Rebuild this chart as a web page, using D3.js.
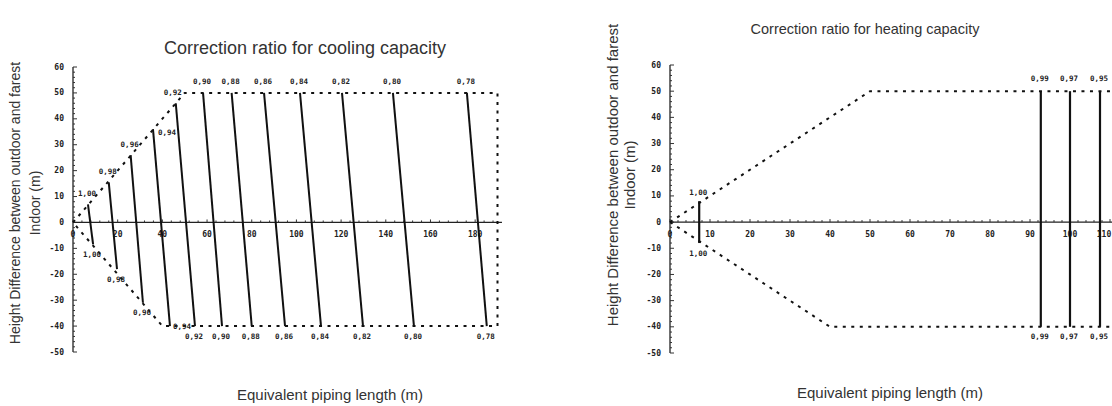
<!DOCTYPE html>
<html>
<head>
<meta charset="utf-8">
<script src="https://cdn.jsdelivr.net/npm/d3@7"></script>
<style>
  html, body { margin: 0; padding: 0; background: #fff; }
  svg { display: block; }
  .title, .axis-title { font-family: "Liberation Sans", Arial, sans-serif; fill: #333; }
  .tick-label, .ratio-label { font-family: "DejaVu Sans Mono", monospace; font-weight: bold; fill: #222; }
</style>
</head>
<body>
<svg id="chart" width="1112" height="406"></svg>
<script>
// ── cooling chart data (length m, height m) ─────────────────────────────
const coolLabels = ["1,00","0,98","0,96","0,94","0,92","0,90","0,88","0,86","0,84","0,82","0,80","0,78"];
const coolTopLen = [6.7, 16, 25.8, 35.8, 46, 58.2, 71, 85.5, 101.6, 120.4, 143.2, 176.3];
const coolTopH   = [7, 15.5, 26, 36, 46, 50, 50, 50, 50, 50, 50, 50];
const coolBotLen = [9, 19.7, 31.3, 43.4, 54.6, 66.7, 80, 94.9, 111, 129.8, 152.6, 185.2];
const coolBotH   = [-8.5, -18, -31, -40, -40, -40, -40, -40, -40, -40, -40, -40];
const coolLimitLen = [0, 50, 190, 190, 40, 0];
const coolLimitH   = [0, 50, 50, -40, -40, 0];
const coolXTicks = [0, 20, 40, 60, 80, 100, 120, 140, 160, 180];

// ── heating chart data ───────────────────────────────────────────────────
const heatLabels = ["1,00","0,99","0,97","0,95"];
const heatLen    = [7.3, 92.7, 100, 107.5];
const heatTopH   = [8, 50, 50, 50];
const heatBotH   = [-8, -40, -40, -40];
const heatUpperLen = [0, 50, 111];
const heatUpperH   = [0, 50, 50];
const heatLowerLen = [0, 40, 111];
const heatLowerH   = [0, -40, -40];
const heatXTicks = [0, 10, 20, 30, 40, 50, 60, 70, 80, 90, 100, 110];

const yTicks = [60, 50, 40, 30, 20, 10, 0, -10, -20, -30, -40, -50];

const svg = d3.select("#chart");
const W = +svg.attr("width");
const dots = "3,5.5";

// draw the axes cross (y axis at length 0, x axis at height 0)
function drawAxes(g, x, y, xTicks, xEnd, xMinorStep) {
  // y axis
  g.append("line")
    .attr("x1", x(0)).attr("x2", x(0))
    .attr("y1", y(-50)).attr("y2", y(60))
    .attr("stroke", "#222").attr("stroke-width", 1.3);
  g.selectAll(".ymin").data(d3.range(-50, 60.1, 2))
    .join("line")
      .attr("x1", x(0)).attr("x2", d => x(0) + (d % 10 === 0 ? 4 : 2))
      .attr("y1", d => y(d)).attr("y2", d => y(d))
      .attr("stroke", "#333").attr("stroke-width", 1);
  g.selectAll(".ylab").data(yTicks)
    .join("text")
      .attr("class", "tick-label")
      .attr("x", x(0) - 9).attr("y", d => y(d))
      .attr("text-anchor", "end").attr("dominant-baseline", "central")
      .attr("font-size", 8)
      .text(d => d);

  // x axis
  g.append("line")
    .attr("x1", x(0)).attr("x2", x(xEnd))
    .attr("y1", y(0)).attr("y2", y(0))
    .attr("stroke", "#222").attr("stroke-width", 1.3);
  g.selectAll(".xmin").data(d3.range(0, xEnd, xMinorStep))
    .join("line")
      .attr("x1", d => x(d)).attr("x2", d => x(d))
      .attr("y1", y(0)).attr("y2", d => y(0) - (d % xTicks[1] === 0 ? 3 : 2))
      .attr("stroke", "#333").attr("stroke-width", 1);
  // keep the last label inside the page (it sits at the very edge)
  g.selectAll(".xlab").data(xTicks)
    .join("text")
      .attr("class", "tick-label")
      .attr("x", d => Math.min(x(d), W - 8)).attr("y", y(0) + 12)
      .attr("text-anchor", "middle").attr("dominant-baseline", "central")
      .attr("font-size", 8)
      .text(d => d);
}

function limitLine(g, lens, hs, x, y) {
  g.append("path")
    .datum(d3.zip(lens, hs))
    .attr("fill", "none")
    .attr("stroke", "#111").attr("stroke-width", 2)
    .attr("stroke-dasharray", dots)
    .attr("d", d3.line().x(d => x(d[0])).y(d => y(d[1])));
}

function axisTitles(g, title, tx, ty, tSize, yx, yy, yGap, ySize, xx, xy) {
  g.append("text").attr("class", "title")
    .attr("x", tx).attr("y", ty).attr("text-anchor", "middle")
    .attr("font-size", tSize).text(title);
  const yt = g.append("text").attr("class", "axis-title")
    .attr("transform", `translate(${yx},${yy}) rotate(-90)`)
    .attr("text-anchor", "middle").attr("font-size", ySize);
  yt.append("tspan").attr("x", 0).attr("dy", 0)
    .text("Height Difference between outdoor and farest");
  yt.append("tspan").attr("x", 0).attr("dy", yGap)
    .text("Indoor (m)");
  g.append("text").attr("class", "axis-title")
    .attr("x", xx).attr("y", xy).attr("text-anchor", "middle")
    .attr("font-size", 15).text("Equivalent piping length (m)");
}

// ──────────────────────────────────────────────────────────────────────────
// 1) COOLING
// ──────────────────────────────────────────────────────────────────────────
{
  const x = d3.scaleLinear().domain([0, 190]).range([73, 497.5]);
  const y = d3.scaleLinear().domain([-50, 60]).range([352, 67]);
  const g = svg.append("g");

  axisTitles(g, "Correction ratio for cooling capacity", 305, 54, 18,
             20, 203, 20, 14, 330, 400);
  drawAxes(g, x, y, coolXTicks, 192, 4);
  limitLine(g, coolLimitLen, coolLimitH, x, y);

  g.selectAll(".ratio").data(coolLabels)
    .join("line")
      .attr("x1", (d, i) => x(coolTopLen[i])).attr("y1", (d, i) => y(coolTopH[i]))
      .attr("x2", (d, i) => x(coolBotLen[i])).attr("y2", (d, i) => y(coolBotH[i]))
      .attr("stroke", "#111").attr("stroke-width", 2);

  // top labels (0.94 sits right of its line, 0.92 at the corner)
  g.selectAll(".toplab").data(coolLabels)
    .join("text")
      .attr("class", "ratio-label")
      .attr("x", (d, i) => x(coolTopLen[i]) + (i === 3 ? 14 : i === 4 ? -3 : -1))
      .attr("y", (d, i) => y(coolTopH[i]) + (i === 3 ? 3 : -11))
      .attr("text-anchor", "middle").attr("dominant-baseline", "central")
      .attr("font-size", 7.5)
      .text(d => d);

  g.selectAll(".botlab").data(coolLabels)
    .join("text")
      .attr("class", "ratio-label")
      .attr("x", (d, i) => x(coolBotLen[i]) + (i === 3 ? 12 : -1))
      .attr("y", (d, i) => y(coolBotH[i]) + (i === 3 ? 0 : 10))
      .attr("text-anchor", "middle").attr("dominant-baseline", "central")
      .attr("font-size", 7.5)
      .text(d => d);
}

// ──────────────────────────────────────────────────────────────────────────
// 2) HEATING
// ──────────────────────────────────────────────────────────────────────────
{
  const x = d3.scaleLinear().domain([0, 110]).range([670, 1110]);
  const y = d3.scaleLinear().domain([-50, 60]).range([353, 65]);
  const g = svg.append("g");

  axisTitles(g, "Correction ratio for heating capacity", 865, 34, 14.5,
             618, 175, 17, 15, 890, 398);
  drawAxes(g, x, y, heatXTicks, 111, 2);
  limitLine(g, heatUpperLen, heatUpperH, x, y);
  limitLine(g, heatLowerLen, heatLowerH, x, y);

  g.selectAll(".ratio").data(heatLabels)
    .join("line")
      .attr("x1", (d, i) => x(heatLen[i])).attr("x2", (d, i) => x(heatLen[i]))
      .attr("y1", (d, i) => y(heatTopH[i])).attr("y2", (d, i) => y(heatBotH[i]))
      .attr("stroke", "#111").attr("stroke-width", 2.2);

  g.selectAll(".toplab").data(heatLabels)
    .join("text")
      .attr("class", "ratio-label")
      .attr("x", (d, i) => x(heatLen[i]) - 1)
      .attr("y", (d, i) => y(heatTopH[i]) - (i === 0 ? 9 : 13))
      .attr("text-anchor", "middle").attr("dominant-baseline", "central")
      .attr("font-size", 7.5)
      .text(d => d);

  g.selectAll(".botlab").data(heatLabels)
    .join("text")
      .attr("class", "ratio-label")
      .attr("x", (d, i) => x(heatLen[i]) - 1)
      .attr("y", (d, i) => y(heatBotH[i]) + 10)
      .attr("text-anchor", "middle").attr("dominant-baseline", "central")
      .attr("font-size", 7.5)
      .text(d => d);
}
</script>
</body>
</html>
